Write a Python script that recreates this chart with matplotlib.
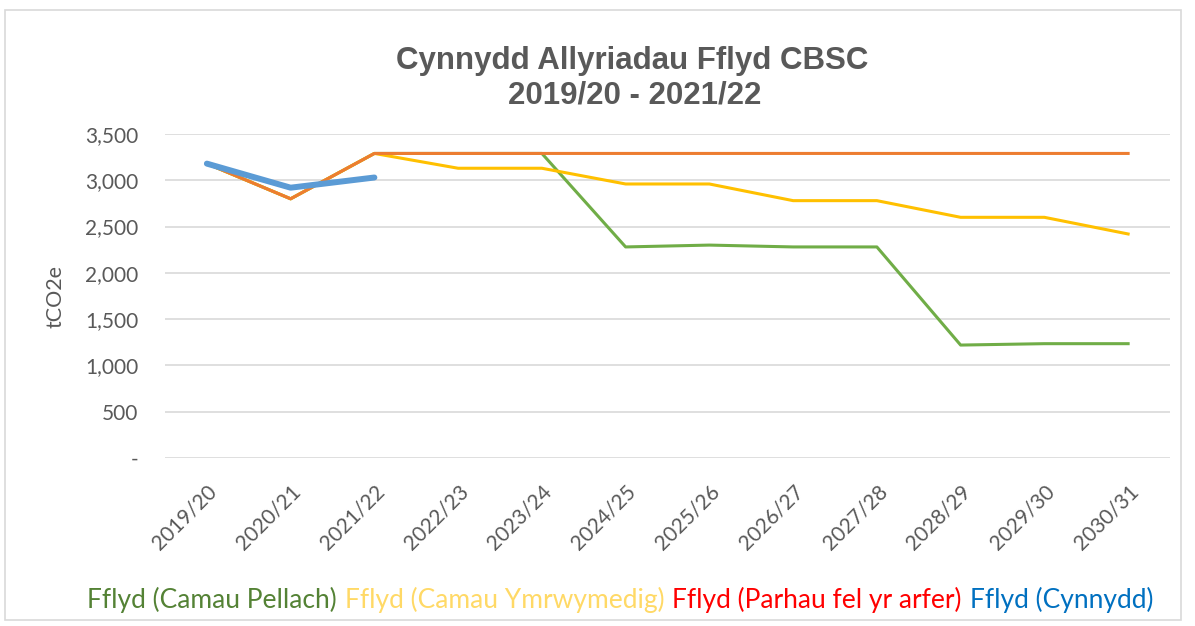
import matplotlib.pyplot as plt
from matplotlib.patches import Rectangle
from matplotlib.lines import Line2D
from matplotlib.ticker import FuncFormatter

# blynyddoedd (categories)
years = ['2019/20', '2020/21', '2021/22', '2022/23', '2023/24', '2024/25',
         '2025/26', '2026/27', '2027/28', '2028/29', '2029/30', '2030/31']

# values (tCO2e)
camau_pellach = [3180, 2800, 3290, 3290, 3290, 2280, 2300, 2280, 2280, 1220, 1235, 1235]
camau_ymrwymedig = [3180, 2800, 3290, 3130, 3130, 2960, 2960, 2780, 2780, 2600, 2600, 2420]
parhau = [3180, 2800, 3290, 3290, 3290, 3290, 3290, 3290, 3290, 3290, 3290, 3290]
cynnydd = [3180, 2920, 3030]

labels = ['Fflyd (Camau Pellach)', 'Fflyd (Camau Ymrwymedig)',
          'Fflyd (Parhau fel yr arfer)', 'Fflyd (Cynnydd)']
line_cols = ['#70AD47', '#FFC000', '#ED7D31', '#5B9BD5']
text_cols = ['#548235', '#FFD966', '#FF0000', '#0070C0']

grey = '#595959'

fig = plt.figure(figsize=(11.95, 6.26), dpi=100)
# plot area in pixels: x 165..1170, y 134..458
ax = fig.add_axes([165/1195, 1-458/626, (1170-165)/1195, (458-134)/626])

x = list(range(len(years)))
ax.plot(x, camau_pellach, color=line_cols[0], lw=2.2, zorder=3)
ax.plot(x, camau_ymrwymedig, color=line_cols[1], lw=2.2, zorder=4)
ax.plot(x, parhau, color=line_cols[2], lw=2.2, zorder=5)
ax.plot(x[:len(cynnydd)], cynnydd, color=line_cols[3], lw=4.3,
        solid_capstyle='round', zorder=6)

ax.set_xlim(-0.5, len(years) - 0.5)
ax.set_ylim(0, 3500)
ax.set_yticks(range(0, 3501, 500))
ax.yaxis.set_major_formatter(FuncFormatter(lambda v, p: '-' if v == 0 else f'{int(v):,}'))
ax.set_xticks(x)
ax.set_xticklabels(years, rotation=45, ha='right', rotation_mode='anchor')
ax.grid(axis='y', color='#D9D9D9', lw=1.2)
ax.set_axisbelow(True)
for s in ax.spines.values():
    s.set_visible(False)
ax.tick_params(length=0, colors=grey, labelsize=15)
ax.tick_params(axis='y', pad=19)
ax.tick_params(axis='x', pad=17)
for t in ax.get_xticklabels() + ax.get_yticklabels():
    t.set_family('Lato')
ax.set_ylabel('tCO2e', color=grey, fontsize=15.5, family='Lato')
ax.yaxis.set_label_coords((65-165)/(1170-165), 0.5)

fig.text(632/1195, 1-69/626, 'Cynnydd Allyriadau Fflyd CBSC', ha='center', va='baseline',
         fontsize=22.5, fontweight='bold', color=grey, family='Liberation Sans')
fig.text(635/1195, 1-103/626, '2019/20 - 2021/22', ha='center', va='baseline',
         fontsize=22.5, fontweight='bold', color=grey, family='Liberation Sans')

handles = [Line2D([], [], color=c, lw=0) for c in line_cols]
leg = fig.legend(handles, labels, loc='center', bbox_to_anchor=(620/1195, 1-600/626),
                 ncol=4, frameon=False, handlelength=0, handletextpad=0,
                 columnspacing=0.3, prop={'family': 'Lato', 'size': 19})
for t, c in zip(leg.get_texts(), text_cols):
    t.set_color(c)

fig.add_artist(Rectangle((5/1195, 1-620/626), (1181-5)/1195, (620-10)/626,
                         transform=fig.transFigure, fill=False,
                         edgecolor='#D9D9D9', lw=1.2))

fig.savefig('out.png', dpi=100)
